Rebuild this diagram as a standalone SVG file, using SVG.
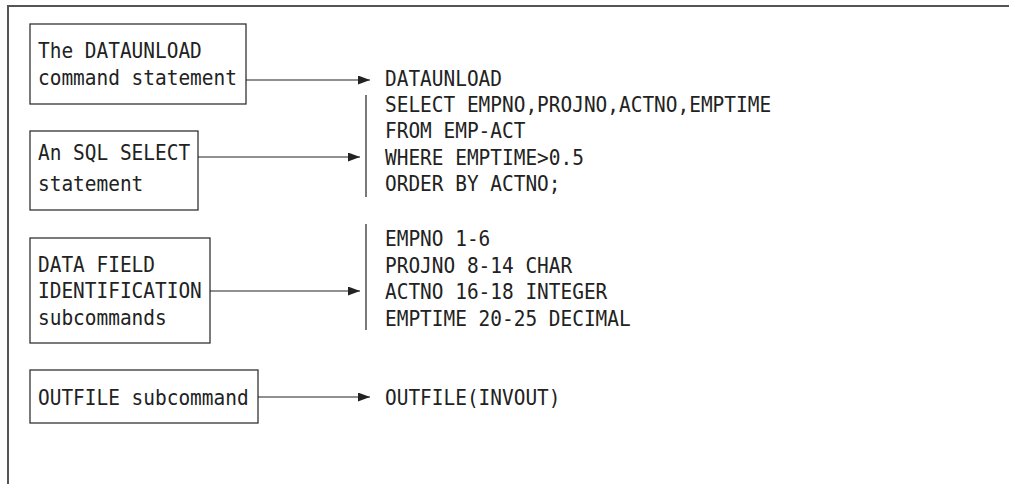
<svg xmlns="http://www.w3.org/2000/svg" width="1009" height="484" viewBox="0 0 1009 484">
<style>
  text { font-family: "DejaVu Sans Mono", "Liberation Mono", monospace; font-size: 21px; fill: #222; }
  .box { fill: none; stroke: #333; stroke-width: 1.3; }
  .frame { fill: none; stroke: #555; stroke-width: 2; }
  .conn { fill: none; stroke: #222; stroke-width: 1.2; }
  .bar { fill: none; stroke: #333; stroke-width: 1.3; }
</style>
<defs>
  <marker id="arr" viewBox="0 0 12 9" refX="12" refY="4.5" markerWidth="12" markerHeight="9" markerUnits="userSpaceOnUse" orient="auto">
    <path d="M0,0 L12,4.5 L0,9 Z" fill="#222"/>
  </marker>
</defs>
<rect width="1009" height="484" fill="#fff"/>
<path class="frame" d="M8,484 V6 H1009"/>

<g id="node-datauload-cmd">
  <rect class="box" x="30" y="24" width="216" height="80"/>
  <text x="38" y="58" textLength="163.8" lengthAdjust="spacingAndGlyphs">The DATAUNLOAD</text>
  <text x="38" y="85" textLength="198.9" lengthAdjust="spacingAndGlyphs">command statement</text>
</g>
<g id="node-sql-select">
  <rect class="box" x="30" y="131" width="168" height="79"/>
  <text x="38" y="160" textLength="152.1" lengthAdjust="spacingAndGlyphs">An SQL SELECT</text>
  <text x="38" y="191" textLength="105.3" lengthAdjust="spacingAndGlyphs">statement</text>
</g>
<g id="node-data-field">
  <rect class="box" x="30" y="238" width="180" height="105"/>
  <text x="38" y="272" textLength="117" lengthAdjust="spacingAndGlyphs">DATA FIELD</text>
  <text x="38" y="298" textLength="163.8" lengthAdjust="spacingAndGlyphs">IDENTIFICATION</text>
  <text x="38" y="325" textLength="128.7" lengthAdjust="spacingAndGlyphs">subcommands</text>
</g>
<g id="node-outfile">
  <rect class="box" x="30" y="370" width="228" height="53"/>
  <text x="38" y="405" textLength="210.6" lengthAdjust="spacingAndGlyphs">OUTFILE subcommand</text>
</g>

<g id="code-listing">
  <path class="bar" d="M366,95 V197 M366,224 V330"/>
  <text x="385" y="86" textLength="117" lengthAdjust="spacingAndGlyphs">DATAUNLOAD</text>
  <text x="385" y="112" textLength="386.1" lengthAdjust="spacingAndGlyphs">SELECT EMPNO,PROJNO,ACTNO,EMPTIME</text>
  <text x="385" y="138" textLength="140.4" lengthAdjust="spacingAndGlyphs">FROM EMP-ACT</text>
  <text x="385" y="164.5" textLength="198.9" lengthAdjust="spacingAndGlyphs">WHERE EMPTIME&gt;0.5</text>
  <text x="385" y="191" textLength="175.5" lengthAdjust="spacingAndGlyphs">ORDER BY ACTNO;</text>
  <text x="385" y="246" textLength="105.3" lengthAdjust="spacingAndGlyphs">EMPNO 1-6</text>
  <text x="385" y="272.5" textLength="187.2" lengthAdjust="spacingAndGlyphs">PROJNO 8-14 CHAR</text>
  <text x="385" y="299" textLength="222.3" lengthAdjust="spacingAndGlyphs">ACTNO 16-18 INTEGER</text>
  <text x="385" y="325.5" textLength="245.7" lengthAdjust="spacingAndGlyphs">EMPTIME 20-25 DECIMAL</text>
  <text x="385" y="405" textLength="175.5" lengthAdjust="spacingAndGlyphs">OUTFILE(INVOUT)</text>
</g>

<g id="connectors">
  <path class="conn" d="M246,80 H370" marker-end="url(#arr)"/>
  <path class="conn" d="M198,157 H360" marker-end="url(#arr)"/>
  <path class="conn" d="M210,291 H360" marker-end="url(#arr)"/>
  <path class="conn" d="M258,397 H370" marker-end="url(#arr)"/>
</g>
</svg>
